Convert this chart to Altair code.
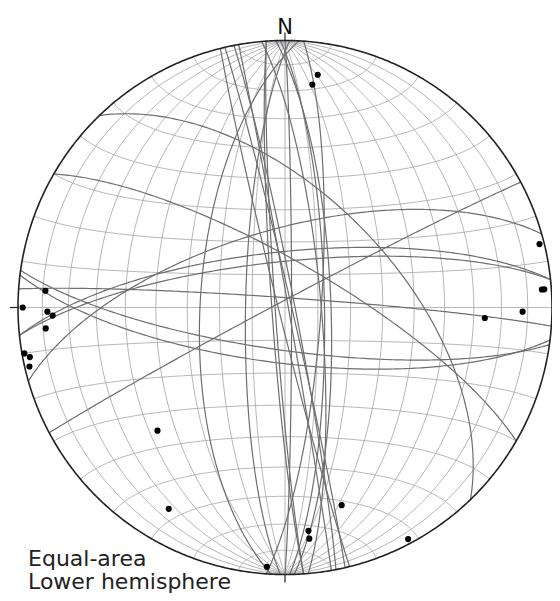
import numpy as np
import pandas as pd
import altair as alt

# Planes (right-hand-rule strike, dip) read from the stereonet
strikes = [98, 97, 4, 0, 359, 358, 355, 350, 349, 347, 166, 176, 176, 181, 183,
           254, 264, 264, 274, 316, 300, 242]
dips = [77, 73, 79, 88, 78, 76, 79, 89, 87, 88, 88, 86, 87, 78, 64,
        66, 73, 76, 87, 56, 76, 88]

grid_step = [10, 20, 30, 40, 50, 60, 70, 80]
cardinals = ["N", "E", "S", "W"]
net_labels = ["Equal-area", "Lower hemisphere"]


def project(v):
    x, y, z = v[:, 0], v[:, 1], v[:, 2]
    k = 1.0 / np.sqrt(1.0 - z)
    return x * k, y * k


def plane_pts(s, d, n=181):
    sr, dr = np.radians(s), np.radians(d)
    S = np.array([np.sin(sr), np.cos(sr), 0.0])
    dd = sr + np.pi / 2
    D = np.array([np.sin(dd) * np.cos(dr), np.cos(dd) * np.cos(dr), -np.sin(dr)])
    th = np.linspace(0, np.pi, n)
    v = np.outer(np.cos(th), S) + np.outer(np.sin(th), D)
    v[:, 2] = np.minimum(v[:, 2], 0.0)
    return project(v)


def small_circle_pts(a, n=181):
    ar = np.radians(a)
    ph = np.linspace(0, np.pi, n)
    v = np.column_stack([np.sin(ar) * np.cos(ph),
                         np.full_like(ph, np.cos(ar)),
                         -np.sin(ar) * np.sin(ph)])
    return project(v)


rows = []
g = 0
for d in grid_step:
    for s in (0, 180):
        X, Y = plane_pts(s, d)
        rows += [(g, i, X[i], Y[i]) for i in range(len(X))]
        g += 1
X, Y = plane_pts(0, 90)
rows += [(g, i, X[i], Y[i]) for i in range(len(X))]
g += 1
for a in grid_step + [90] + [180 - s for s in grid_step]:
    X, Y = small_circle_pts(a)
    rows += [(g, i, X[i], Y[i]) for i in range(len(X))]
    g += 1
grid_df = pd.DataFrame(rows, columns=["g", "i", "x", "y"])

rows = []
for k, (s, d) in enumerate(zip(strikes, dips)):
    X, Y = plane_pts(s, d)
    rows += [(k, i, X[i], Y[i]) for i in range(len(X))]
planes_df = pd.DataFrame(rows, columns=["g", "i", "x", "y"])

# poles of the planes
pt = np.radians(np.array(strikes) - 90.0)
pp = np.radians(90.0 - np.array(dips))
pv = np.column_stack([np.sin(pt) * np.cos(pp), np.cos(pt) * np.cos(pp), -np.sin(pp)])
PX, PY = project(pv)
poles_df = pd.DataFrame({"x": PX, "y": PY})

ang = np.linspace(0, 2 * np.pi, 721)
prim_df = pd.DataFrame({"i": np.arange(len(ang)), "x": np.sin(ang), "y": np.cos(ang)})

card_az = np.radians([0, 90, 180, 270])
ticks_df = pd.DataFrame({
    "c": cardinals,
    "x": np.sin(card_az), "y": np.cos(card_az),
    "x2": 1.03 * np.sin(card_az), "y2": 1.03 * np.cos(card_az),
})

xs = alt.Scale(domain=[-1, 1], nice=False, zero=False)
ys = alt.Scale(domain=[-1, 1], nice=False, zero=False)
X_ = alt.X("x:Q", scale=xs, axis=None)
Y_ = alt.Y("y:Q", scale=ys, axis=None)

grid = alt.Chart(grid_df).mark_line(color="#adadad", strokeWidth=0.9).encode(
    x=X_, y=Y_, detail="g:N", order="i:Q")
planes = alt.Chart(planes_df).mark_line(color="#6e6e6e", strokeWidth=1.2).encode(
    x=X_, y=Y_, detail="g:N", order="i:Q")
prim = alt.Chart(prim_df).mark_line(color="#222222", strokeWidth=1.6).encode(
    x=X_, y=Y_, order="i:Q")
ticks = alt.Chart(ticks_df).mark_rule(color="#222222", strokeWidth=1.2).encode(
    x=X_, y=Y_, x2="x2:Q", y2="y2:Q")
poles = alt.Chart(poles_df).mark_circle(size=38, color="black", opacity=1).encode(
    x=X_, y=Y_)
north = alt.Chart(pd.DataFrame({"t": ["N"], "x": [0.0], "y": [1.0]})).mark_text(
    fontSize=21, font="DejaVu Sans", color="#111111", baseline="alphabetic",
    align="center", dy=-7).encode(x=X_, y=Y_, text="t:N")
lab_df = pd.DataFrame({"t": net_labels, "x": [-0.9625, -0.9625], "y": [-1.0, -1.0]})
lab1 = alt.Chart(lab_df.iloc[[0]]).mark_text(
    fontSize=22, font="DejaVu Sans", color="#222222", baseline="alphabetic",
    align="left", dy=-9).encode(x=X_, y=Y_, text="t:N")
lab2 = alt.Chart(lab_df.iloc[[1]]).mark_text(
    fontSize=22, font="DejaVu Sans", color="#222222", baseline="alphabetic",
    align="left", dy=14).encode(x=X_, y=Y_, text="t:N")

chart = alt.layer(grid, planes, prim, ticks, poles, north, lab1, lab2).properties(
    width=534, height=534,
    autosize=alt.AutoSizeParams(type="none"),
    padding={"left": 10, "top": 32.5, "right": 0, "bottom": 18.5},
).configure_view(stroke=None)

chart.save("out.html", embed_options={"renderer": "svg", "actions": False})
